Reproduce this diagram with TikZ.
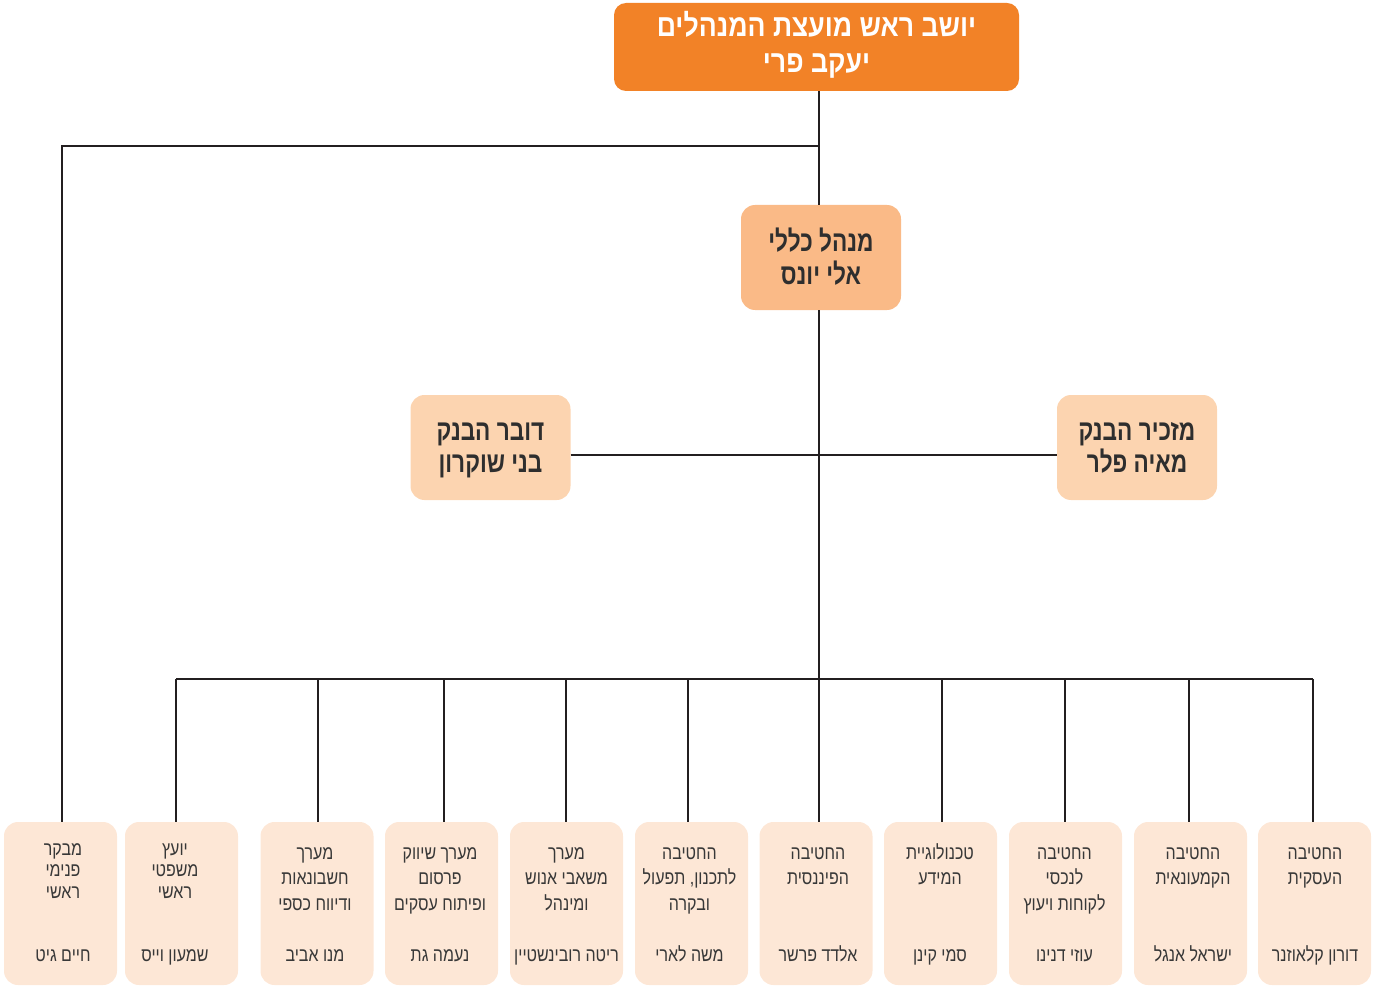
\documentclass[tikz,border=0pt]{standalone}
\usepackage{fontspec}
\setmainfont{Liberation Sans}
\newfontfamily\heblow[Script=Hebrew,FakeStretch=0.82]{Liberation Sans}
\newfontfamily\hebmid[Script=Hebrew,FakeStretch=0.78]{Liberation Sans Bold}
\newfontfamily\hebtop[Script=Hebrew,FakeStretch=0.86]{Liberation Sans Bold}
\TeXXeTstate=1
\definecolor{topc}{HTML}{F28227}
\definecolor{mgrc}{HTML}{FABA87}
\definecolor{sidec}{HTML}{FCD4B0}
\definecolor{lowc}{HTML}{FDE7D6}
\definecolor{linec}{HTML}{231F20}
\definecolor{darkc}{HTML}{2E2E2E}
\definecolor{lowtc}{HTML}{383838}
\tikzset{
  conn/.style={draw=linec, line width=2.4pt},
  topbox/.style={fill=topc, rounded corners=12pt, minimum width=405pt, minimum height=88pt, inner sep=0pt},
  midbox/.style={rounded corners=14pt, minimum width=160pt, minimum height=105pt, inner sep=0pt},
  lowbox/.style={fill=lowc, rounded corners=14pt, minimum width=113pt, minimum height=163pt, inner sep=0pt},
  ttext/.style={anchor=base, inner sep=0pt, text=white, font=\hebtop\fontsize{31}{36}\selectfont},
  mtext/.style={anchor=base, inner sep=0pt, text=darkc, font=\hebmid\fontsize{29}{33}\selectfont},
  ltext/.style={anchor=base, inner sep=0pt, text=lowtc, font=\heblow\fontsize{19.5}{23}\selectfont}
}
% name, box centre x, text centre x, first baseline, line step, l1, l2, l3, person
\newcommand\lowunit[9]{%
  \node[lowbox] (#1) at (#2,903.5) {};
  \node[ltext] (#1a) at (#3,#4) {#6};
  \node[ltext] (#1b) at (#3,{#4+#5}) {#7};
  \node[ltext] (#1c) at (#3,{#4+2*#5}) {#8};
  \node[ltext] (#1n) at (#3,961) {#9};
}
\begin{document}
\begin{tikzpicture}[x=1pt,y=-1pt]
\useasboundingbox (0,0) rectangle (1382,987);
% top
\node[topbox] (top) at (816.5,47) {};
\node[ttext] (topa) at (816.5,37) {\beginR יושב ראש מועצת המנהלים\endR};
\node[ttext] (topb) at (816.5,73) {\beginR יעקב פרי\endR};
% manager
\node[midbox, fill=mgrc] (mgr) at (821,257.5) {};
\node[mtext] (mgra) at (821,252) {\beginR מנהל כללי\endR};
\node[mtext] (mgrb) at (821,284) {\beginR אלי יונס\endR};
% spokesman
\node[midbox, fill=sidec] (spk) at (490.5,447.5) {};
\node[mtext] (spka) at (490.5,440) {\beginR דובר הבנק\endR};
\node[mtext] (spkb) at (490.5,472) {\beginR בני שוקרון\endR};
% secretary
\node[midbox, fill=sidec] (sec) at (1137,447.5) {};
\node[mtext] (seca) at (1137,440) {\beginR מזכיר הבנק\endR};
\node[mtext] (secb) at (1137,472) {\beginR מאיה פלר\endR};
% bottom units
\lowunit{u1}{60.5}{63}{855}{21.5}{\beginR מבקר\endR}{\beginR פנימי\endR}{\beginR ראשי\endR}{\beginR חיים גיט\endR}
\lowunit{u2}{181.5}{175}{855}{21.5}{\beginR יועץ\endR}{\beginR משפטי\endR}{\beginR ראשי\endR}{\beginR שמעון וייס\endR}
\lowunit{u3}{317}{315}{859}{25.5}{\beginR מערך\endR}{\beginR חשבונאות\endR}{\beginR ודיווח כספי\endR}{\beginR מנו אביב\endR}
\lowunit{u4}{441.5}{440}{859}{25.5}{\beginR מערך שיווק\endR}{\beginR פרסום\endR}{\beginR ופיתוח עסקים\endR}{\beginR נעמה גת\endR}
\lowunit{u5}{566.5}{566.5}{859}{25.5}{\beginR מערך\endR}{\beginR משאבי אנוש\endR}{\beginR ומינהל\endR}{\beginR ריטה רובינשטיין\endR}
\lowunit{u6}{691.5}{689.5}{859}{25.5}{\beginR החטיבה\endR}{\beginR לתכנון, תפעול\endR}{\beginR ובקרה\endR}{\beginR משה לארי\endR}
\lowunit{u7}{816}{818}{859}{25.5}{\beginR החטיבה\endR}{\beginR הפיננסית\endR}{}{\beginR אלדד פרשר\endR}
\lowunit{u8}{940.5}{940}{859}{25.5}{\beginR טכנולוגיית\endR}{\beginR המידע\endR}{}{\beginR סמי קינן\endR}
\lowunit{u9}{1065.5}{1064.5}{859}{25.5}{\beginR החטיבה\endR}{\beginR לנכסי\endR}{\beginR לקוחות ויעוץ\endR}{\beginR עוזי דנינו\endR}
\lowunit{u10}{1190.5}{1193}{859}{25.5}{\beginR החטיבה\endR}{\beginR הקמעונאית\endR}{}{\beginR ישראל אנגל\endR}
\lowunit{u11}{1314.5}{1315}{859}{25.5}{\beginR החטיבה\endR}{\beginR העסקית\endR}{}{\beginR דורון קלאוזנר\endR}
% junctions
\coordinate (jtop) at (819,146);
\coordinate (jmid) at (819,455);
\coordinate (jbus) at (819,679);
\coordinate (d1) at (62,146);
\coordinate (d2) at (176,679);
\coordinate (d3) at (318,679);
\coordinate (d4) at (444,679);
\coordinate (d5) at (566,679);
\coordinate (d6) at (688,679);
\coordinate (d8) at (942,679);
\coordinate (d9) at (1065,679);
\coordinate (d10) at (1189,679);
\coordinate (d11) at (1313,679);
% connectors
\draw[conn] (top.south -| jtop) -- (mgr.north -| jtop);
\draw[conn] (mgr.south -| jmid) -- (jbus);
\draw[conn] (jtop) -- (d1) -- (d1 |- u1.north);
\draw[conn] (spk.east |- jmid) -- (sec.west |- jmid);
\draw[conn] (d2) -- (d11);
\draw[conn] (d2) -- (d2 |- u2.north);
\draw[conn] (d3) -- (d3 |- u3.north);
\draw[conn] (d4) -- (d4 |- u4.north);
\draw[conn] (d5) -- (d5 |- u5.north);
\draw[conn] (d6) -- (d6 |- u6.north);
\draw[conn] (jbus) -- (jbus |- u7.north);
\draw[conn] (d8) -- (d8 |- u8.north);
\draw[conn] (d9) -- (d9 |- u9.north);
\draw[conn] (d10) -- (d10 |- u10.north);
\draw[conn] (d11) -- (d11 |- u11.north);
\end{tikzpicture}
\end{document}
